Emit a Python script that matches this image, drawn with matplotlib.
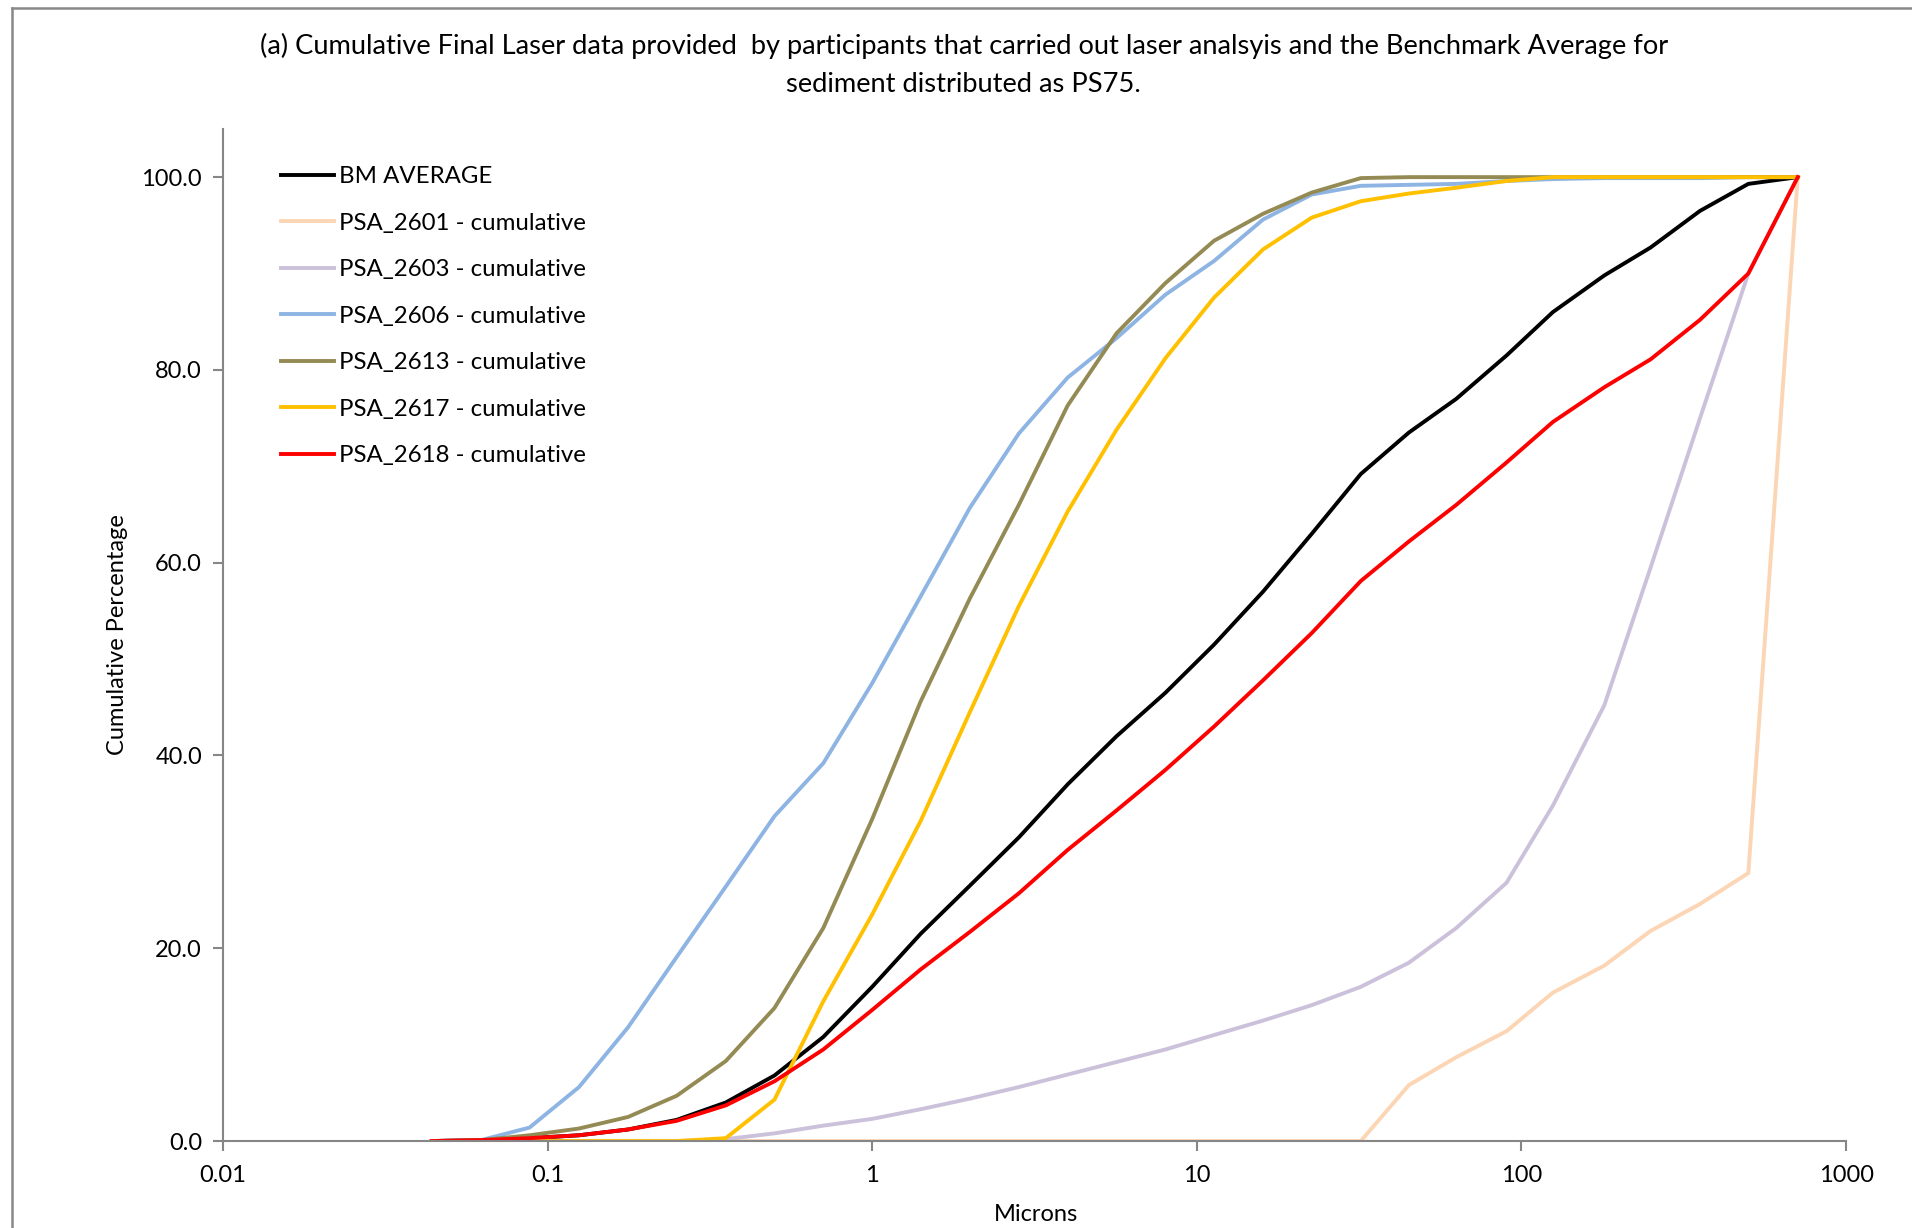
import matplotlib
matplotlib.use("Agg")
import matplotlib.pyplot as plt
from matplotlib.lines import Line2D
from matplotlib.ticker import FixedLocator, FixedFormatter, MultipleLocator, FormatStrFormatter

plt.rcParams['font.family'] = ['Lato', 'DejaVu Sans']

#------------------------------------------------------------------------------
#data

sizes = [0.044, 0.0625, 0.088, 0.125, 0.177, 0.25, 0.354, 0.5, 0.707, 1,
         1.41, 2, 2.83, 4, 5.66, 8, 11.3, 16, 22.6, 32,
         45, 63, 90, 125, 180, 250, 355, 500, 710]

bm_average = [0, 0.1, 0.3, 0.6, 1.2, 2.2, 4.0, 6.8, 10.8, 16.0,
              21.5, 26.5, 31.5, 37.0, 42.0, 46.5, 51.5, 57.0, 63.0, 69.2,
              73.5, 77.0, 81.5, 86.0, 89.8, 92.7, 96.5, 99.3, 100]
psa_2601 = [0, 0, 0, 0, 0, 0, 0, 0, 0, 0,
            0, 0, 0, 0, 0, 0, 0, 0, 0, 0,
            5.8, 8.7, 11.4, 15.4, 18.2, 21.8, 24.6, 27.8, 100]
psa_2603 = [0, 0, 0, 0, 0, 0, 0.2, 0.8, 1.6, 2.3,
            3.3, 4.4, 5.6, 6.9, 8.2, 9.5, 11.0, 12.5, 14.1, 16.0,
            18.5, 22.1, 26.8, 34.8, 45.2, 59.5, 75.0, 90.0, 100]
psa_2606 = [0, 0.1, 1.4, 5.6, 11.8, 19.1, 26.4, 33.7, 39.2, 47.5,
            56.5, 65.7, 73.4, 79.2, 83.3, 87.8, 91.3, 95.6, 98.2, 99.1,
            99.2, 99.3, 99.6, 99.8, 99.9, 99.9, 99.9, 100, 100]
psa_2613 = [0, 0.1, 0.6, 1.3, 2.5, 4.7, 8.3, 13.8, 22.1, 33.4,
            45.6, 56.3, 66.0, 76.3, 83.8, 89.0, 93.4, 96.2, 98.4, 99.9,
            100, 100, 100, 100, 100, 100, 100, 100, 100]
psa_2617 = [0, 0, 0, 0, 0, 0, 0.3, 4.3, 14.5, 23.5,
            33.2, 44.5, 55.5, 65.3, 73.8, 81.2, 87.5, 92.5, 95.8, 97.5,
            98.3, 98.9, 99.6, 100, 100, 100, 100, 100, 100]
psa_2618 = [0, 0.1, 0.3, 0.6, 1.2, 2.1, 3.7, 6.2, 9.5, 13.6,
            17.8, 21.7, 25.7, 30.2, 34.3, 38.5, 43.0, 47.8, 52.7, 58.1,
            62.2, 66.0, 70.4, 74.6, 78.2, 81.1, 85.2, 90.0, 100]

names = ["BM AVERAGE", "PSA_2601 - cumulative", "PSA_2603 - cumulative",
         "PSA_2606 - cumulative", "PSA_2613 - cumulative",
         "PSA_2617 - cumulative", "PSA_2618 - cumulative"]
series = [bm_average, psa_2601, psa_2603, psa_2606, psa_2613, psa_2617, psa_2618]
colors = ["#000000", "#FCD5B5", "#CCC1DA", "#8EB4E3", "#948A54", "#FFC000", "#FF0000"]

xticks = [0.01, 0.1, 1, 10, 100, 1000]
xtick_labels = ["0.01", "0.1", "1", "10", "100", "1000"]

#------------------------------------------------------------------------------
#plot

fig = plt.figure(figsize=(19.12, 12.28), dpi=100)
ax = fig.add_axes([0.1166, 0.0708, 0.8489, 0.8242])

for name, vals, col in zip(names, series, colors):
    ax.plot(sizes, vals, color=col, lw=2.8, label=name, solid_joinstyle="round")

ax.set_xscale("log")
ax.set_xlim(0.01, 1000)
ax.set_ylim(0, 105)
ax.xaxis.set_major_locator(FixedLocator(xticks))
ax.xaxis.set_major_formatter(FixedFormatter(xtick_labels))
ax.xaxis.set_minor_locator(FixedLocator([]))
ax.yaxis.set_major_locator(MultipleLocator(20))
ax.yaxis.set_major_formatter(FormatStrFormatter("%.1f"))

for s in ["top", "right"]:
    ax.spines[s].set_visible(False)
for s in ["left", "bottom"]:
    ax.spines[s].set_color("#868686")
    ax.spines[s].set_linewidth(1.5)
ax.tick_params(axis="both", colors="#868686", labelcolor="black", labelsize=17,
               width=1.5, length=7)
ax.tick_params(axis="x", pad=10)
ax.tick_params(axis="y", pad=8)

ax.set_xlabel("Microns", fontsize=17)
ax.set_ylabel("Cumulative Percentage", fontsize=17)
ax.xaxis.set_label_coords(0.501, -0.062)
ax.yaxis.set_label_coords(-0.0585, 0.5)

ax.legend(loc="upper left", bbox_to_anchor=(0.0357, 0.963), frameon=False,
          fontsize=17.3, handlelength=2.2, handletextpad=0.2, labelspacing=1.06,
          borderaxespad=0, borderpad=0)

fig.text(0.504, 0.947, "(a) Cumulative Final Laser data provided  by participants that "
         "carried out laser analsyis and the Benchmark Average for\n"
         "sediment distributed as PS75.", ha="center", va="center",
         fontsize=19.6, linespacing=1.62)

#outer chart border
fig.add_artist(Line2D([12 / 1912, 1.0], [1 - 8 / 1228, 1 - 8 / 1228],
                      transform=fig.transFigure, color="#888888", lw=1.8))
fig.add_artist(Line2D([12 / 1912, 12 / 1912], [0.0, 1 - 8 / 1228],
                      transform=fig.transFigure, color="#888888", lw=1.8))

fig.savefig("out.png", dpi=100)
